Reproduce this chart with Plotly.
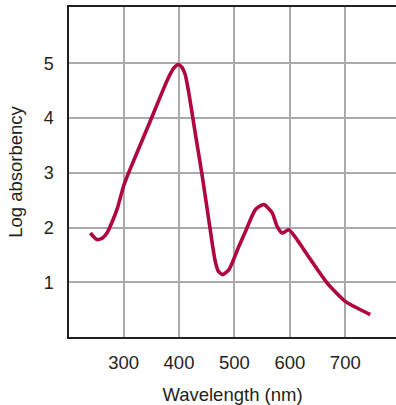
import plotly.graph_objects as go

wavelength = [240, 252, 262, 270, 280, 289, 300, 309, 345, 380, 391, 399, 405,
              411, 417, 430, 441, 453, 465, 471, 479, 490, 507, 520, 538, 553, 568, 577, 586,
              598, 613, 625, 650, 667, 700, 745]
log_absorbency = [1.90, 1.78, 1.81, 1.90, 2.12, 2.36, 2.76, 3.00, 3.87, 4.72, 4.92, 4.98, 4.93,
                  4.80, 4.50, 3.68, 3.00, 2.19, 1.40, 1.20, 1.14, 1.23, 1.63,
                  1.93, 2.33, 2.42, 2.27, 2.02, 1.90, 1.96, 1.78, 1.60, 1.23, 0.99, 0.65, 0.41]

x_ticks = [300, 400, 500, 600, 700]
y_ticks = [1, 2, 3, 4, 5]

FONT = "Liberation Sans, Arial, Helvetica, sans-serif"
TEXT = "#231F20"

fig = go.Figure()
fig.add_trace(go.Scatter(
    x=wavelength, y=log_absorbency, mode="lines",
    line=dict(color="#B0063F", width=3.6, shape="spline", smoothing=0.6),
    hoverinfo="skip", showlegend=False,
))

fig.update_layout(
    width=396, height=405,
    margin=dict(l=69, r=0, t=7, b=68, autoexpand=False),
    paper_bgcolor="white", plot_bgcolor="white",
    font=dict(family=FONT, color=TEXT, size=18),
    xaxis=dict(
        range=[201.5, 791.5], tickvals=x_ticks, ticktext=[str(v) for v in x_ticks],
        showgrid=True, gridcolor="#AAAAAA", gridwidth=1.5,
        showline=True, linecolor="#231F20", linewidth=1.5, mirror=True,
        ticks="", ticklabelstandoff=8, zeroline=False, automargin=False,
        tickfont=dict(size=18.5),
        title=dict(text="Wavelength (nm)", font=dict(size=18.5), standoff=18),
    ),
    yaxis=dict(
        range=[0, 6.03], tickvals=y_ticks, ticktext=[str(v) for v in y_ticks],
        showgrid=True, gridcolor="#AAAAAA", gridwidth=1.5,
        showline=True, linecolor="#231F20", linewidth=1.5,
        ticks="", ticklabelstandoff=10, zeroline=False, automargin=False,
        tickfont=dict(size=18),
        title=dict(text="Log absorbency", font=dict(size=18.5), standoff=16),
    ),
)

fig.write_html("out.html", config={"displayModeBar": False},
               post_script="document.body.style.margin='0';document.body.style.overflow='hidden';")
